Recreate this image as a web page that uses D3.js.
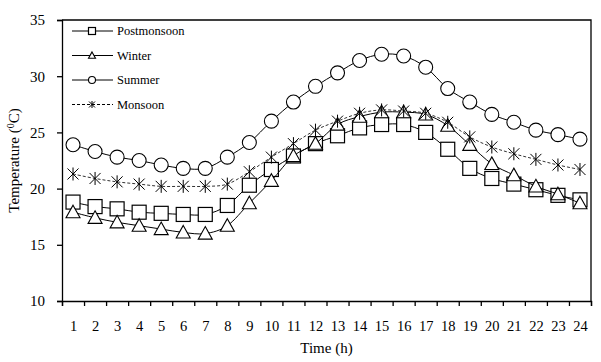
<!DOCTYPE html>
<html>
<head>
<meta charset="utf-8">
<script src="https://cdn.jsdelivr.net/npm/d3@7"></script>
<style>
  body { margin: 0; background: #fff; }
  text { font-family: "Liberation Serif", "Times New Roman", serif; fill: #000; }
</style>
</head>
<body>
<svg id="chart" width="601" height="362"></svg>
<script>
// Hours of the day
const hours = d3.range(1, 25);

// Temperature (°C) per hour for each season
const postmonsoon = [18.8, 18.4, 18.2, 17.9, 17.8, 17.7, 17.7, 18.5, 20.3, 21.7, 22.9, 24.0,
                     24.7, 25.4, 25.7, 25.7, 25.0, 23.5, 21.8, 20.9, 20.4, 19.9, 19.4, 19.0];
const winter      = [17.9, 17.4, 17.0, 16.7, 16.4, 16.1, 16.0, 16.7, 18.7, 20.7, 22.9, 24.0,
                     25.7, 26.4, 26.8, 26.8, 26.6, 25.6, 23.9, 22.2, 21.2, 20.2, 19.5, 18.7];
const summer      = [23.9, 23.3, 22.8, 22.5, 22.1, 21.8, 21.8, 22.8, 24.1, 26.0, 27.7, 29.1,
                     30.3, 31.4, 31.95, 31.8, 30.8, 28.9, 27.7, 26.6, 25.9, 25.2, 24.8, 24.4];
const monsoon     = [21.3, 20.9, 20.6, 20.4, 20.2, 20.2, 20.2, 20.4, 21.5, 22.8, 24.0, 25.2,
                     26.0, 26.7, 27.0, 26.9, 26.7, 25.9, 24.6, 23.7, 23.1, 22.6, 22.1, 21.7];

const yTicks = [10, 15, 20, 25, 30, 35];

const series = [
    { name: "Postmonsoon", values: postmonsoon, marker: "square", dash: null },
    { name: "Winter", values: winter, marker: "triangle", dash: null },
    { name: "Summer", values: summer, marker: "circle", dash: null },
    { name: "Monsoon", values: monsoon, marker: "star", dash: "3,2" },
];

// Chart dimensions
const margin = { top: 20, right: 10, bottom: 61, left: 62 };
const width = 601 - margin.left - margin.right;
const height = 362 - margin.top - margin.bottom;

const svg = d3.select("#chart")
    .append("g")
    .attr("transform", `translate(${margin.left},${margin.top})`);

const x = d3.scalePoint().domain(hours).range([0, width]).padding(0.5);
const xEdge = d3.scaleLinear().domain([0.5, 24.5]).range([0, width]);
const y = d3.scaleLinear().domain([10, 35]).range([height, 0]);

// Frame (top and right border)
svg.append("path")
    .attr("d", `M0,0H${width}V${height}`)
    .attr("fill", "none")
    .attr("stroke", "#000")
    .attr("stroke-width", 1.3);

// Y axis
const yAxis = svg.append("g")
    .call(d3.axisLeft(y).tickValues(yTicks).tickSize(5).tickPadding(12));
yAxis.selectAll("text").style("font-size", "15px");

// X axis: ticks between categories, labels in the middle
const xTickAxis = svg.append("g")
    .attr("transform", `translate(0,${height})`)
    .call(d3.axisBottom(xEdge).tickValues(d3.range(0.5, 25, 1)).tickSize(5).tickFormat(""));
const xLabelAxis = svg.append("g")
    .attr("transform", `translate(0,${height})`)
    .call(d3.axisBottom(x).tickSize(0).tickPadding(20));
xLabelAxis.select(".domain").remove();
xLabelAxis.selectAll("text").style("font-size", "14.5px");

svg.selectAll(".domain, .tick line")
    .attr("stroke", "#000")
    .attr("stroke-width", 1.3);

// Axis titles
svg.append("text")
    .attr("x", width / 2)
    .attr("y", height + 52)
    .attr("text-anchor", "middle")
    .style("font-size", "15px")
    .text("Time (h)");

const yTitle = svg.append("text")
    .attr("transform", `translate(-43,${height / 2}) rotate(-90)`)
    .attr("text-anchor", "middle")
    .style("font-size", "15px");
yTitle.append("tspan").text("Temperature (");
yTitle.append("tspan").attr("dy", -5).style("font-size", "10px").text("0");
yTitle.append("tspan").attr("dy", 5).text("C)");

// Marker drawing
function drawMarker(g, type, size) {
    const h = size / 2;
    if (type === "square") {
        g.append("rect").attr("x", -h).attr("y", -h).attr("width", size).attr("height", size)
            .attr("fill", "#fff").attr("stroke", "#000").attr("stroke-width", 1.2);
    } else if (type === "circle") {
        g.append("circle").attr("r", h)
            .attr("fill", "#fff").attr("stroke", "#000").attr("stroke-width", 1.1);
    } else if (type === "triangle") {
        g.append("path").attr("d", `M0,${-h}L${h},${h * 0.8}L${-h},${h * 0.8}Z`)
            .attr("fill", "#fff").attr("stroke", "#000").attr("stroke-width", 1.1);
    } else if (type === "star") {
        const s = h * 0.85;
        g.append("path").attr("d", `M${-s},${-s}L${s},${s}M${-s},${s}L${s},${-s}M0,${-h}V${h}`)
            .attr("fill", "none").attr("stroke", "#000").attr("stroke-width", 1);
    }
}

const line = d3.line()
    .x((d, i) => x(hours[i]))
    .y(d => y(d))
    .curve(d3.curveCardinal.tension(0));

const markerSize = { square: 14, triangle: 14, circle: 14, star: 13 };

// Draw each series
series.forEach(s => {
    svg.append("path")
        .datum(s.values)
        .attr("d", line)
        .attr("fill", "none")
        .attr("stroke", s.dash ? "#333" : "#000")
        .attr("stroke-width", 1)
        .attr("stroke-dasharray", s.dash);

    svg.append("g")
        .selectAll("g")
        .data(s.values)
        .enter()
        .append("g")
        .attr("transform", (d, i) => `translate(${x(hours[i])},${y(d)})`)
        .each(function () { drawMarker(d3.select(this), s.marker, markerSize[s.marker]); });
});

// Legend
const legend = svg.append("g").attr("transform", "translate(10,11)");
series.forEach((s, i) => {
    const row = legend.append("g").attr("transform", `translate(0,${i * 24.5})`);
    row.append("line")
        .attr("x1", 0).attr("x2", 41).attr("y1", 0).attr("y2", 0)
        .attr("stroke", "#000").attr("stroke-width", 1)
        .attr("stroke-dasharray", s.dash);
    const m = row.append("g").attr("transform", "translate(20,0)");
    drawMarker(m, s.marker, 7);
    row.append("text")
        .attr("x", 45).attr("y", 4)
        .style("font-size", "12.5px")
        .text(s.name);
});
</script>
</body>
</html>
